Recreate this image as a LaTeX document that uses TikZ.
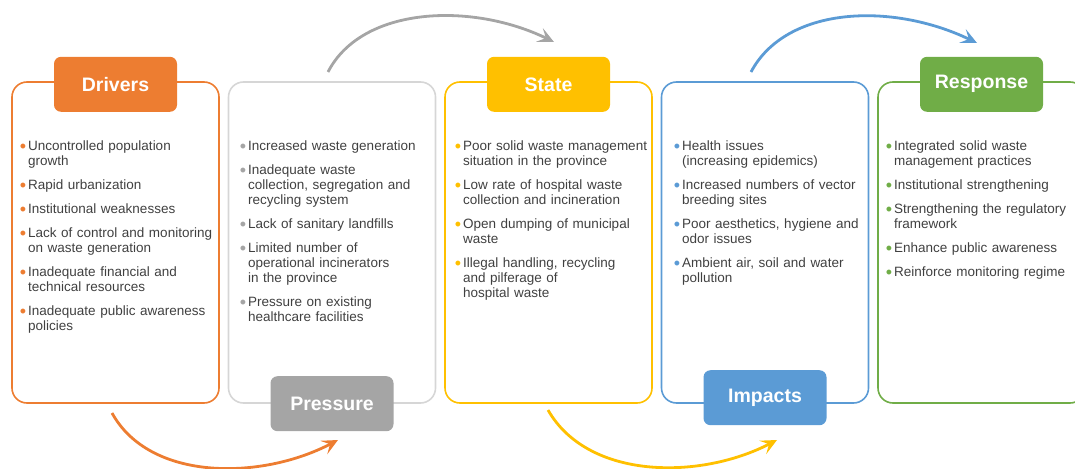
\documentclass[tikz,border=0pt]{standalone}
\usepackage{fontspec}
\setmainfont{Liberation Sans}
\usepackage{xcolor}
\usetikzlibrary{arrows.meta, positioning, calc}

\definecolor{drvorange}{HTML}{ED7D31}
\definecolor{prsgray}{HTML}{A5A5A5}
\definecolor{prsframe}{HTML}{D6D6D6}
\definecolor{styellow}{HTML}{FFC000}
\definecolor{impblue}{HTML}{5B9BD5}
\definecolor{resgreen}{HTML}{70AD47}
\definecolor{bodytxt}{HTML}{404040}

\newcommand{\bitem}[1]{\par\noindent\llap{\textcolor{bullet}{\fontsize{18}{15}\selectfont\raisebox{-1.4pt}{\textbullet}}\hspace{2pt}}#1\par}

\begin{document}
\begin{tikzpicture}[
  x=1pt, y=-1pt,
  node distance=0pt and 9.5pt,
  stagebox/.style={draw, line width=1.6pt, rounded corners=15pt,
                   minimum width=207pt, minimum height=321pt,
                   inner sep=0pt, outer sep=0pt},
  stagetag/.style={rounded corners=7pt, minimum width=123pt,
                   minimum height=55pt, inner sep=0pt, text=white,
                   font=\fontsize{19.5}{22}\selectfont\bfseries},
  listbox/.style={inner sep=0pt, text width=198pt, align=left,
                  font=\fontsize{13.5}{15}\selectfont, text=bodytxt,
                  execute at begin node={\setlength{\parskip}{9pt}\colorlet{bullet}{#1}}},
  flowarr/.style={line width=2.8pt, -{Stealth[length=16pt, width=15pt, inset=7pt]}}
]
  \useasboundingbox (0,0) rectangle (1075,468);

  % frames
  \node[stagebox, draw=drvorange, anchor=north west] (drv) at (12,82) {};
  \node[stagebox, draw=prsframe, right=of drv] (prs) {};
  \node[stagebox, draw=styellow,  right=of prs] (sta) {};
  \node[stagebox, draw=impblue,   right=of sta] (imp) {};
  \node[stagebox, draw=resgreen,  right=of imp] (res) {};

  % headings
  \node[stagetag, fill=drvorange, above=-30pt of drv.north] (drvtag) {Drivers};
  \node[stagetag, fill=prsgray,   below=-27pt of prs.south] (prstag) {Pressure};
  \node[stagetag, fill=styellow,  above=-30pt of sta.north] (statag) {State};
  \node[stagetag, fill=impblue,   below=-33pt of imp.south] (imptag) {Impacts};
  \node[stagetag, fill=resgreen,  above=-30pt of res.north] (restag) {Response};

  % bullet lists
  \node[listbox=drvorange, below right=44.5pt and 16pt of drv.north west] (drvlist) {%
    \bitem{Uncontrolled population\\growth}
    \bitem{Rapid urbanization}
    \bitem{Institutional weaknesses}
    \bitem{Lack of control and monitoring\\on waste generation}
    \bitem{Inadequate financial and\\technical resources}
    \bitem{Inadequate public awareness\\policies}};
  \node[listbox=prsgray, below right=44.5pt and 19.5pt of prs.north west] (prslist) {%
    \bitem{Increased waste generation}
    \bitem{Inadequate waste\\collection, segregation and\\recycling system}
    \bitem{Lack of sanitary landfills}
    \bitem{Limited number of\\operational incinerators\\in the province}
    \bitem{Pressure on existing\\healthcare facilities}};
  \node[listbox=styellow, below right=44.5pt and 18pt of sta.north west] (stalist) {%
    \bitem{Poor solid waste management\\situation in the province}
    \bitem{Low rate of hospital waste\\collection and incineration}
    \bitem{Open dumping of municipal\\waste}
    \bitem{Illegal handling, recycling\\and pilferage of\\hospital waste}};
  \node[listbox=impblue, below right=44.5pt and 20.5pt of imp.north west] (implist) {%
    \bitem{Health issues\\(increasing epidemics)}
    \bitem{Increased numbers of vector\\breeding sites}
    \bitem{Poor aesthetics, hygiene and\\odor issues}
    \bitem{Ambient air, soil and water\\pollution}};
  \node[listbox=resgreen, below right=44.5pt and 16pt of res.north west] (reslist) {%
    \bitem{Integrated solid waste\\management practices}
    \bitem{Institutional strengthening}
    \bitem{Strengthening the regulatory\\framework}
    \bitem{Enhance public awareness}
    \bitem{Reinforce monitoring regime}};

  % curved arrows between stages
  \coordinate (a1s) at (112,413);  \coordinate (a1e) at (338,440);
  \coordinate (a2s) at (328,72);   \coordinate (a2e) at (554,42);
  \coordinate (a3s) at (548,410);  \coordinate (a3e) at (777,440);
  \coordinate (a4s) at (751,72);   \coordinate (a4e) at (977,43);

  \draw[flowarr, drvorange] (a1s) .. controls (150,482) and (262,480) .. (a1e);
  \draw[flowarr, prsgray]   (a2s) .. controls (362,6) and (472,2) .. (a2e);
  \draw[flowarr, styellow]  (a3s) .. controls (588,480) and (700,480) .. (a3e);
  \draw[flowarr, impblue]   (a4s) .. controls (786,6) and (892,2) .. (a4e);
\end{tikzpicture}
\end{document}
